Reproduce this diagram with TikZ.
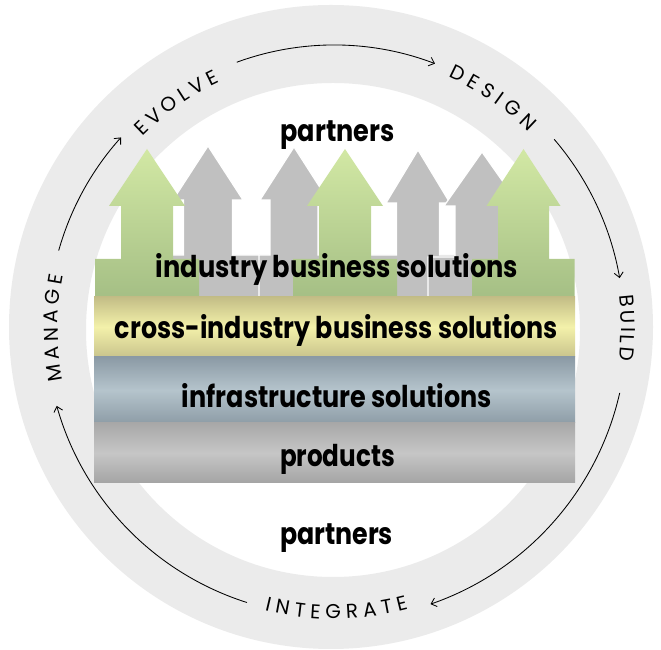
\documentclass[tikz,border=0pt]{standalone}
\usepackage{fontspec}
\setmainfont{Poppins}
\newfontfamily\ringfont{Poppins}
\usetikzlibrary{decorations.text,arrows.meta}
\definecolor{ringgray}{HTML}{EBEBEB}
\definecolor{arrowgray}{HTML}{C0C0C0}
\definecolor{gtop}{HTML}{D2E8A4}
\definecolor{gbot}{HTML}{A5BF85}
\definecolor{crosstop}{HTML}{C3BD86}
\definecolor{crossmid}{HTML}{F3F1AA}
\definecolor{crossbot}{HTML}{C9C48C}
\definecolor{infratop}{HTML}{8B9AA5}
\definecolor{inframid}{HTML}{B5C4CC}
\definecolor{infrabot}{HTML}{8E9DA7}
\definecolor{prodtop}{HTML}{A8A8A8}
\definecolor{prodmid}{HTML}{C6C6C6}
\definecolor{prodbot}{HTML}{A4A4A4}
\newcommand\arrowpath[8]{(#1,#2) -- ({#1+#4},#3) -- ({#1+#5},#3) -- ({#1+#5},#6) -- ({#1+#7},#6) -- ({#1+#7},#8) -- ({#1-#7},#8) -- ({#1-#7},#6) -- ({#1-#5},#6) -- ({#1-#5},#3) -- ({#1-#4},#3) -- cycle}
\newcommand\fitw[2]{\resizebox{#1pt}{\height}{#2}}
\newcommand\rlabel{\ringfont\fontsize{20}{20}\selectfont}
\begin{document}
\begin{tikzpicture}[x=1pt,y=1pt,
  lbl/.style={font=\fontsize{30}{31}\selectfont\bfseries, inner sep=0pt, anchor=base},
  band/.style={minimum width=481pt, inner sep=0pt, draw=none},
  grayarrow/.style={fill=arrowgray, draw=white, line width=1.2pt, line join=miter},
  greenarrow/.style={top color=gtop, bottom color=gbot, draw=none},
  ringarrow/.style={black, line width=0.85pt, -{Straight Barb[length=5pt,width=9pt]}},
  ringtext/.style={decorate, decoration={text along path, text align=fit to path, text={|\rlabel|#1}}}
]
\useasboundingbox (0,0) rectangle (661,650);
\coordinate (C) at (334,322);
% ring
\fill[ringgray, even odd rule] (331,323) circle[radius=322pt] (333,320) circle[radius=247pt];
% ring labels
\path[ringtext=EVOLVE] ([shift={(135:271pt)}]C) arc[start angle=135, end angle=115, radius=271pt];
\path[ringtext=DESIGN] ([shift={(65.6:276pt)}]C) arc[start angle=65.6, end angle=45.2, radius=276pt];
\path[ringtext=BUILD] ([shift={(6.5:287pt)}]C) arc[start angle=6.5, end angle=-6.5, radius=287pt];
\path[ringtext=MANAGE] ([shift={(190.9:276pt)}]C) arc[start angle=190.9, end angle=169.1, radius=276pt];
\path[ringtext=INTEGRATE] ([shift={(256.2:291pt)}]C) arc[start angle=256.2, end angle=284.8, radius=291pt];
% ring arrows
\draw[ringarrow] ([shift={(110.1:283pt)}]C) arc[start angle=110.1, end angle=69.1, radius=283pt];
\draw[ringarrow] ([shift={(40.6:290pt)}]C) arc[start angle=40.6, end angle=9.9, radius=290pt];
\draw[ringarrow] ([shift={(-12.8:293pt)}]C) arc[start angle=-12.8, end angle=-70.9, radius=292pt];
\draw[ringarrow] ([shift={(252.4:288pt)}]C) arc[start angle=252.4, end angle=195.7, radius=288pt];
\draw[ringarrow] ([shift={(164.3:286pt)}]C) arc[start angle=164.3, end angle=138, radius=284pt];
% gray arrows
\path[grayarrow] \arrowpath{208}{504}{450}{35}{24.5}{395}{52}{353};
\path[grayarrow] \arrowpath{294}{503}{450}{34}{24}{395}{35}{353};
\path[grayarrow] \arrowpath{418}{500}{447}{32}{21.5}{395}{52}{353};
\path[grayarrow] \arrowpath{482}{498}{444}{38}{27}{393}{54}{353};
% green arrows
\path[greenarrow] \arrowpath{147}{501}{444}{38}{26}{391}{52}{353};
\path[greenarrow] \arrowpath{345}{501}{444}{38}{26}{391}{52}{353};
\path[greenarrow] \arrowpath{523.5}{501}{444}{37}{25.5}{391}{51}{353};
% bands
\node[band, minimum height=60pt, top color=crosstop, bottom color=crossbot, middle color=crossmid] (cross) at (334.5,323) {};
\node[band, minimum height=66pt, top color=infratop, bottom color=infrabot, middle color=inframid] (infra) at (334.5,260) {};
\node[band, minimum height=60pt, top color=prodtop, bottom color=prodbot, middle color=prodmid] (prod) at (334.5,197) {};
% texts
\node[lbl] (ptop) at (337.5,508) {\fitw{114}{partners}};
\node[lbl] (ind) at (337,372) {\fitw{362}{industry business solutions}};
\node[lbl] (crosst) at (336.5,311) {\fitw{443}{cross-industry business solutions}};
\node[lbl] (infrat) at (337,242) {\fitw{310}{infrastructure solutions}};
\node[lbl] (prodt) at (337.5,183) {\fitw{115}{products}};
\node[lbl] (pbot) at (336.5,105) {\fitw{113}{partners}};
\end{tikzpicture}
\end{document}
